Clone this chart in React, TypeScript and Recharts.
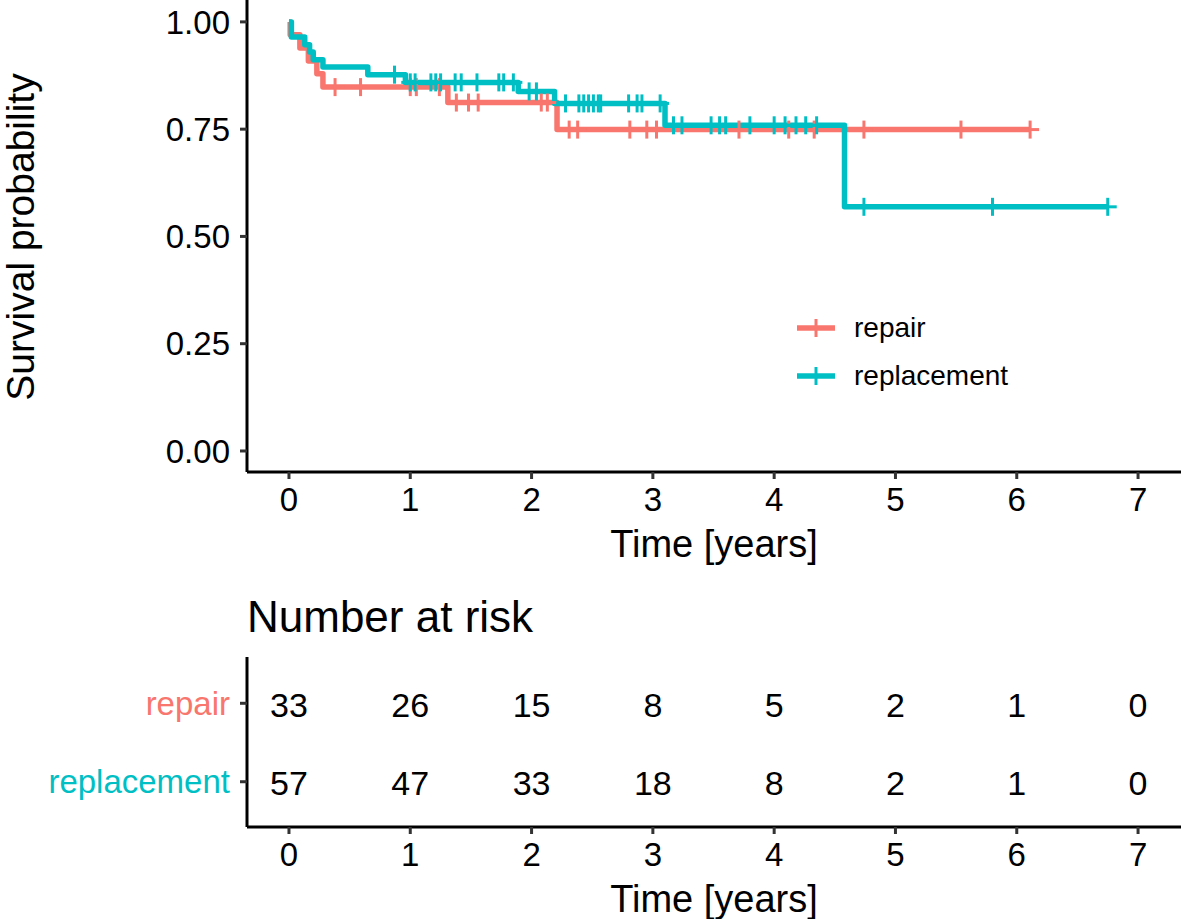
import React from "react";
import { ComposedChart, Line, Scatter, XAxis, YAxis, Legend } from "recharts";

const FONT = '"Liberation Sans", Arial, Helvetica, sans-serif';
const RED = "#F8766D";
const TEAL = "#00BFC4";

// axis ticks
const timeTicks = [0, 1, 2, 3, 4, 5, 6, 7];
const survTicks = [0, 0.25, 0.5, 0.75, 1];

// repair arm: step drops and censored times (years)
const repairEventTimes = [0, 0.01, 0.09, 0.16, 0.23, 0.28, 1.31, 2.21];
const repairSurv = [1, 0.97, 0.939, 0.909, 0.879, 0.848, 0.812, 0.749];
const repairCensorTimes = [
  0.38, 0.59, 1.0, 1.05, 1.24, 1.38, 1.48, 1.56, 2.08, 2.13, 2.31, 2.38,
  2.81, 2.95, 3.03, 3.71, 4.12, 4.33, 4.74, 5.54, 6.11,
];

// replacement arm
const replacementEventTimes = [0, 0.02, 0.13, 0.17, 0.2, 0.28, 0.65, 0.96, 1.89, 2.19, 3.1, 4.58];
const replacementSurv = [1, 0.965, 0.947, 0.93, 0.912, 0.895, 0.877, 0.859, 0.838, 0.81, 0.759, 0.569];
const replacementCensorTimes = [
  0.87, 1.0, 1.04, 1.17, 1.21, 1.25, 1.37, 1.42, 1.55, 1.73, 1.77, 1.85,
  1.98, 2.04, 2.28, 2.39, 2.43, 2.47, 2.51, 2.55, 2.57, 2.8, 2.87, 2.91,
  3.06, 3.17, 3.24, 3.48, 3.55, 3.6, 3.8, 4.0, 4.09, 4.18, 4.26, 4.35,
  4.74, 5.8, 6.75,
];

// number at risk table
const riskTimes = [0, 1, 2, 3, 4, 5, 6, 7];
const repairAtRisk = [33, 26, 15, 8, 5, 2, 1, 0];
const replacementAtRisk = [57, 47, 33, 18, 8, 2, 1, 0];

const groups = ["repair", "replacement"];
const groupColors = [RED, TEAL];

function survAt(times: number[], surv: number[], t: number) {
  let s = surv[0];
  times.forEach((et, i) => {
    if (et <= t) s = surv[i];
  });
  return s;
}

function stepData(times: number[], surv: number[], censors: number[]) {
  const pts = times.map((t, i) => ({ t, s: surv[i] }));
  const end = Math.max(...censors);
  pts.push({ t: end, s: surv[surv.length - 1] });
  return pts;
}

function censorData(times: number[], surv: number[], censors: number[]) {
  return censors.map((t) => ({ t, s: survAt(times, surv, t) }));
}

const repairLine = stepData(repairEventTimes, repairSurv, repairCensorTimes);
const replacementLine = stepData(replacementEventTimes, replacementSurv, replacementCensorTimes);
const repairMarks = censorData(repairEventTimes, repairSurv, repairCensorTimes);
const replacementMarks = censorData(replacementEventTimes, replacementSurv, replacementCensorTimes);

const repairRisk = riskTimes.map((t, i) => ({ t, row: 2, n: repairAtRisk[i] }));
const replacementRisk = riskTimes.map((t, i) => ({ t, row: 1, n: replacementAtRisk[i] }));

const plus = (color: string) => (props: any) => {
  const { cx, cy } = props;
  return (
    <g>
      <line x1={cx - 9} x2={cx + 9} y1={cy} y2={cy} stroke={color} strokeWidth={3} />
      <line x1={cx} x2={cx} y1={cy - 9} y2={cy + 9} stroke={color} strokeWidth={3} />
    </g>
  );
};

const riskText = (props: any) => {
  const { cx, cy, payload } = props;
  return (
    <text x={cx} y={cy} dy="0.4em" textAnchor="middle" fontSize={34} fontFamily={FONT} fill="#000">
      {payload.n}
    </text>
  );
};

const axisTick = { fill: "#000", fontSize: 33, fontFamily: FONT };
const axisLine = { stroke: "#000", strokeWidth: 3 };
const tickLine = { stroke: "#333", strokeWidth: 3 };

function LegendBox() {
  return (
    <div style={{ fontFamily: FONT }}>
      {groups.map((g, i) => (
        <div key={g} style={{ display: "flex", alignItems: "center", height: 48 }}>
          <svg width={40} height={24}>
            <line x1={1} x2={39} y1={12} y2={12} stroke={groupColors[i]} strokeWidth={5.5} />
            <line x1={20} x2={20} y1={3} y2={21} stroke={groupColors[i]} strokeWidth={3} />
          </svg>
          <span style={{ fontSize: 28, marginLeft: 18, color: "#000" }}>{g}</span>
        </div>
      ))}
    </div>
  );
}

function RowTick(props: any) {
  const { x, y, payload } = props;
  const idx = payload.value === 2 ? 0 : 1;
  return (
    <text x={x} y={y} dy="0.355em" textAnchor="end" fontSize={33} fontFamily={FONT} fill={groupColors[idx]}>
      {groups[idx]}
    </text>
  );
}

export default function App() {
  return (
    <div
      style={{
        position: "absolute",
        left: 0,
        top: 0,
        width: 1181,
        height: 919,
        background: "#fff",
        overflow: "hidden",
        fontFamily: FONT,
      }}
    >
      <ComposedChart width={1181} height={580} margin={{ top: 0, right: 0, bottom: 0, left: 0 }}>
        <XAxis
          type="number"
          dataKey="t"
          domain={[-0.346, 7.354]}
          ticks={timeTicks}
          interval={0}
          allowDataOverflow
          height={108}
          tickSize={7}
          tickMargin={9}
          tick={axisTick}
          axisLine={axisLine}
          tickLine={tickLine}
          label={() => (
            <text x={714} y={557} textAnchor="middle" fontSize={38} fontFamily={FONT} fill="#000">
              Time [years]
            </text>
          )}
        />
        <YAxis
          type="number"
          dataKey="s"
          domain={[-0.049, 1.051]}
          ticks={survTicks}
          interval={0}
          allowDataOverflow
          width={247}
          tickSize={7}
          tickMargin={10}
          tick={axisTick}
          axisLine={axisLine}
          tickLine={tickLine}
          tickFormatter={(v: number) => v.toFixed(2)}
          label={() => (
            <text
              x={34}
              y={237}
              transform="rotate(-90 34 237)"
              textAnchor="middle"
              fontSize={39}
              fontFamily={FONT}
              fill="#000"
            >
              Survival probability
            </text>
          )}
        />
        <Line
          data={repairLine}
          dataKey="s"
          type="stepAfter"
          stroke={RED}
          strokeWidth={5.5}
          strokeLinejoin="round"
          dot={false}
          activeDot={false}
          isAnimationActive={false}
        />
        <Line
          data={replacementLine}
          dataKey="s"
          type="stepAfter"
          stroke={TEAL}
          strokeWidth={5.5}
          strokeLinejoin="round"
          dot={false}
          activeDot={false}
          isAnimationActive={false}
        />
        <Scatter data={repairMarks} shape={plus(RED)} isAnimationActive={false} />
        <Scatter data={replacementMarks} shape={plus(TEAL)} isAnimationActive={false} />
        <Legend
          layout="vertical"
          align="center"
          verticalAlign="middle"
          content={() => <LegendBox />}
          wrapperStyle={{ position: "absolute", left: 796, top: 304, width: 260, height: 100 }}
        />
      </ComposedChart>

      <div
        style={{
          position: "absolute",
          left: 247,
          top: 595,
          fontSize: 44,
          lineHeight: "44px",
          color: "#000",
          whiteSpace: "nowrap",
        }}
      >
        Number at risk
      </div>

      <div style={{ position: "absolute", left: 0, top: 580 }}>
        <ComposedChart width={1181} height={339} margin={{ top: 77, right: 0, bottom: 0, left: 0 }}>
          <XAxis
            type="number"
            dataKey="t"
            domain={[-0.346, 7.354]}
            ticks={timeTicks}
            interval={0}
            allowDataOverflow
            height={92}
            tickSize={7}
            tickMargin={9}
            tick={axisTick}
            axisLine={axisLine}
            tickLine={tickLine}
            label={() => (
              <text x={714} y={332} textAnchor="middle" fontSize={38} fontFamily={FONT} fill="#000">
                Time [years]
              </text>
            )}
          />
          <YAxis
            type="number"
            dataKey="row"
            domain={[0.423, 2.59]}
            ticks={[1, 2]}
            interval={0}
            allowDataOverflow
            width={247}
            tickSize={7}
            tickMargin={10}
            tick={<RowTick />}
            axisLine={axisLine}
            tickLine={tickLine}
          />
          <Scatter data={repairRisk} shape={riskText} isAnimationActive={false} />
          <Scatter data={replacementRisk} shape={riskText} isAnimationActive={false} />
        </ComposedChart>
      </div>
    </div>
  );
}
